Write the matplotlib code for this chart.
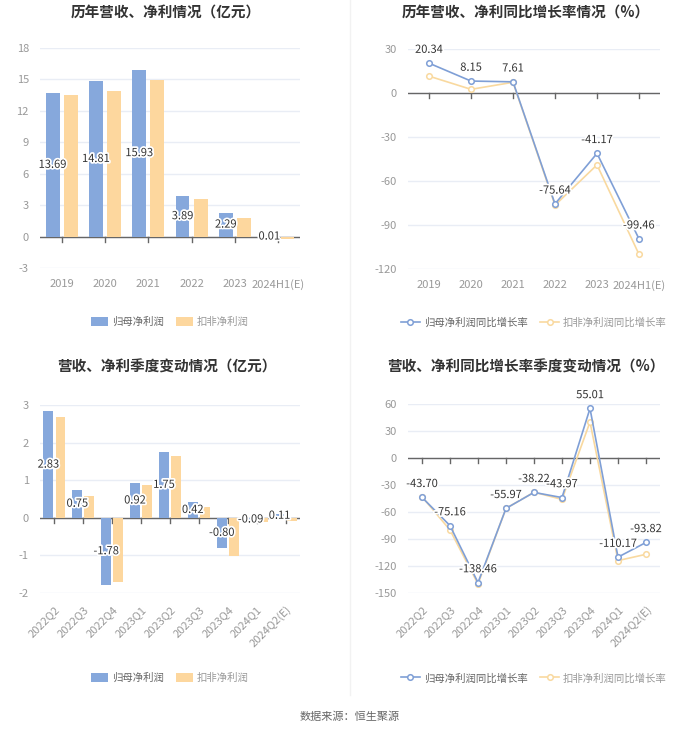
import numpy as np
import matplotlib
matplotlib.use("Agg")
import matplotlib.pyplot as plt
import matplotlib.patheffects as pe

plt.rcParams['font.family'] = ['Noto Sans CJK SC', 'DejaVu Sans']
plt.rcParams['axes.unicode_minus'] = False

# 数据
years = ["2019", "2020", "2021", "2022", "2023", "2024H1(E)"]
profit_y = [13.69, 14.81, 15.93, 3.89, 2.29, 0.01]
profit_kf_y = [13.55, 13.90, 14.95, 3.55, 1.80, -0.20]
growth_y = [20.34, 8.15, 7.61, -75.64, -41.17, -99.46]
growth_kf_y = [11.5, 2.5, 7.3, -76.5, -49.0, -110.0]

quarters = ["2022Q2", "2022Q3", "2022Q4", "2023Q1", "2023Q2", "2023Q3",
            "2023Q4", "2024Q1", "2024Q2(E)"]
profit_q = [2.83, 0.75, -1.78, 0.92, 1.75, 0.42, -0.80, -0.09, 0.11]
profit_kf_q = [2.68, 0.57, -1.72, 0.87, 1.65, 0.30, -1.02, -0.10, -0.08]
growth_q = [-43.70, -75.16, -138.46, -55.97, -38.22, -43.97, 55.01, -110.17, -93.82]
growth_kf_q = [-43.0, -80.0, -140.0, -56.0, -38.0, -46.0, 40.0, -114.0, -107.0]

BLUE = "#86a8dc"
YELLOW = "#fdd79e"
LBLUE = "#7f9fd6"
LYELLOW = "#f9d99f"
GRID = "#e9edf5"
TICK = "#999999"

W, H = 700, 734
fig = plt.figure(figsize=(7, 7.34), dpi=100)


def box(x0, x1, ytop, ybot):
    return [x0 / W, 1 - ybot / H, (x1 - x0) / W, (ybot - ytop) / H]


def style(ax, ylim, yticks):
    ax.set_ylim(*ylim)
    ax.set_yticks(yticks)
    ax.set_yticklabels([str(t) for t in yticks])
    for s in ax.spines.values():
        s.set_visible(False)
    ax.grid(axis='y', color=GRID, lw=1)
    ax.set_axisbelow(True)
    ax.tick_params(axis='y', length=0, labelsize=8, labelcolor=TICK, pad=8)
    ax.tick_params(axis='x', length=0, labelsize=8, labelcolor=TICK, pad=8)
    ax.axhline(0, color="#666666", lw=1, zorder=1)


def zero_ticks(ax, n, ylim, px):
    h = (ylim[1] - ylim[0]) / px * 5
    for i in range(n):
        ax.plot([i, i], [0, -h], color="#666666", lw=1, zorder=1, clip_on=False)


def bars(ax, cats, a, b, w, off, ylim, yticks, px):
    x = np.arange(len(cats))
    b1 = ax.bar(x - off, a, width=w, color=BLUE, zorder=2)
    b2 = ax.bar(x + off, b, width=w, color=YELLOW, zorder=2)
    ax.set_xlim(-0.5, len(cats) - 0.5)
    style(ax, ylim, yticks)
    zero_ticks(ax, len(cats), ylim, px)
    for xi, v in zip(x, a):
        ax.text(xi - off, v / 2, f"{v:.2f}", ha='center', va='center', fontsize=8,
                color="#333333", zorder=3,
                path_effects=[pe.withStroke(linewidth=2.5, foreground='white')])
    return b1, b2


def lines(ax, cats, a, b, ylim, yticks, px):
    x = np.arange(len(cats))
    l2, = ax.plot(x, b, color=LYELLOW, lw=1.2, marker='o', ms=4, mfc='white',
                  mec=LYELLOW, mew=1.1, zorder=3)
    l1, = ax.plot(x, a, color=LBLUE, lw=1.2, marker='o', ms=4, mfc='white',
                  mec=LBLUE, mew=1.1, zorder=4)
    ax.set_xlim(-0.5, len(cats) - 0.5)
    style(ax, ylim, yticks)
    zero_ticks(ax, len(cats), ylim, px)
    for xi, v in zip(x, a):
        ax.annotate(f"{v:.2f}", (xi, v), xytext=(0, 6), textcoords='offset points',
                    ha='center', va='bottom', fontsize=8, color="#333333", zorder=5,
                    path_effects=[pe.withStroke(linewidth=2.5, foreground='white')])
    return l1, l2


def legend(ax, handles, labels, yb, hl):
    lg = ax.legend(handles, labels, loc='center', bbox_to_anchor=(0.5, yb),
                   ncol=2, frameon=False, fontsize=7.5, handlelength=hl, handleheight=1.0,
                   columnspacing=1.2, handletextpad=0.4)
    lg.get_texts()[0].set_color("#666666")
    lg.get_texts()[1].set_color("#999999")


# 左上
ax1 = fig.add_axes(box(40, 300, 48, 268))
h1 = bars(ax1, years, profit_y, profit_kf_y, 0.32, 0.21, (-3, 18), [-3, 0, 3, 6, 9, 12, 15, 18], 220)
ax1.set_xticks(range(len(years)))
ax1.set_xticklabels(years)
legend(ax1, h1, ["归母净利润", "扣非净利润"], -0.245, 1.6)

# 右上
ax2 = fig.add_axes(box(408, 660, 49, 269))
h2 = lines(ax2, years, growth_y, growth_kf_y, (-120, 30), [-120, -90, -60, -30, 0, 30], 220)
ax2.set_xticks(range(len(years)))
ax2.set_xticklabels(years)
legend(ax2, h2, ["归母净利润同比增长率", "扣非净利润同比增长率"], -0.245, 1.8)

# 左下
ax3 = fig.add_axes(box(40, 300, 405, 593))
h3 = bars(ax3, quarters, profit_q, profit_kf_q, 0.34, 0.21, (-2, 3), [-2, -1, 0, 1, 2, 3], 188)
ax3.set_xticks(range(len(quarters)))
ax3.set_xticklabels(quarters, rotation=45, ha='right', rotation_mode='anchor')
legend(ax3, h3, ["归母净利润", "扣非净利润"], -0.452, 1.6)

# 右下
ax4 = fig.add_axes(box(408, 660, 404, 593))
h4 = lines(ax4, quarters, growth_q, growth_kf_q, (-150, 60), [-150, -120, -90, -60, -30, 0, 30, 60], 189)
ax4.set_xticks(range(len(quarters)))
ax4.set_xticklabels(quarters, rotation=45, ha='right', rotation_mode='anchor')
legend(ax4, h4, ["归母净利润同比增长率", "扣非净利润同比增长率"], -0.452, 1.8)

# 标题
for x, y, t in [(166, 13, "历年营收、净利情况（亿元）"),
                (526, 13, "历年营收、净利同比增长率情况（%）"),
                (167, 367, "营收、净利季度变动情况（亿元）"),
                (526, 367, "营收、净利同比增长率季度变动情况（%）")]:
    fig.text(x / W, 1 - y / H, t, ha='center', va='center', fontsize=10.5,
             fontweight='bold', color="#333333")

# 分隔线
fig.add_artist(plt.Line2D([350 / W, 350 / W], [1 - 695 / H, 1.0], color="#f2f2f2", lw=1))

fig.text(0.5, 1 - 717 / H, "数据来源：恒生聚源", ha='center', va='center', fontsize=8, color="#666666")

fig.savefig("out.png", dpi=100, facecolor='white')
